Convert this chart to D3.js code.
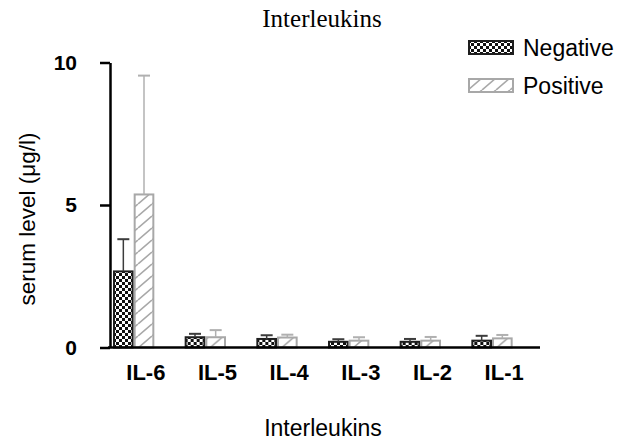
<!DOCTYPE html>
<html>
<head>
<meta charset="utf-8">
<script src="https://cdn.jsdelivr.net/npm/d3@7"></script>
<style>
  html, body { margin: 0; padding: 0; background: #fff; }
  svg { display: block; }
</style>
</head>
<body>
<svg id="chart" width="619" height="440"></svg>
<script>
const categories = ["IL-6", "IL-5", "IL-4", "IL-3", "IL-2", "IL-1"];
const seriesNames = ["Negative", "Positive"];
const negativeValues = [2.67, 0.36, 0.30, 0.20, 0.20, 0.24];
const negativeErrors = [1.13, 0.12, 0.13, 0.09, 0.10, 0.17];
const positiveValues = [5.37, 0.36, 0.35, 0.24, 0.24, 0.32];
const positiveErrors = [4.17, 0.25, 0.10, 0.12, 0.13, 0.12];
const yTicks = [0, 5, 10];
const chartTitle = "Interleukins";
const xTitle = "Interleukins";
const yTitle = "serum level (\u03bcg/l)";

const svg = d3.select("#chart");
const defs = svg.append("defs");

// checker pattern
const chk = defs.append("pattern").attr("id", "checker")
  .attr("patternUnits", "userSpaceOnUse").attr("width", 6).attr("height", 6);
chk.append("rect").attr("width", 6).attr("height", 6).attr("fill", "#fff");
chk.append("rect").attr("width", 3).attr("height", 3).attr("fill", "#111");
chk.append("rect").attr("x", 3).attr("y", 3).attr("width", 3).attr("height", 3).attr("fill", "#111");

// hatch pattern
const hw = 14, hh = 12;
const hat = defs.append("pattern").attr("id", "hatch")
  .attr("patternUnits", "userSpaceOnUse").attr("width", hw).attr("height", hh);
hat.append("rect").attr("width", hw).attr("height", hh).attr("fill", "#fff");
hat.append("path")
  .attr("d", `M0,${hh} L${hw},0 M${-hw},${hh} L0,0 M${hw},${hh} L${2*hw},0`)
  .attr("stroke", "#a8a8a8").attr("stroke-width", 1.6);

const fills = { Negative: "url(#checker)", Positive: "url(#hatch)" };
const strokes = { Negative: "#1e1e1e", Positive: "#a8a8a8" };
const errColors = { Negative: "#3c3c3c", Positive: "#b0b0b0" };

const data = categories.map((c, i) => ({
  cat: c,
  series: [
    { key: "Negative", value: negativeValues[i], err: negativeErrors[i] },
    { key: "Positive", value: positiveValues[i], err: positiveErrors[i] }
  ]
}));

const x = d3.scaleBand().domain(categories).range([110, 540]).padding(0);
const xSub = d3.scaleBand().domain(["Negative", "Positive", "_gap"]).range([3, 65]).padding(0);
const y = d3.scaleLinear().domain([0, 10]).range([347.5, 62.5]);

// bars
const groups = svg.append("g").selectAll("g").data(data).join("g")
  .attr("transform", d => `translate(${x(d.cat)},0)`);

groups.selectAll("rect.bar").data(d => d.series).join("rect")
  .attr("class", "bar")
  .attr("x", d => xSub(d.key) + 1)
  .attr("y", d => y(d.value))
  .attr("width", xSub.bandwidth() - 2)
  .attr("height", d => y(0) - y(d.value))
  .attr("fill", d => fills[d.key])
  .attr("stroke", d => strokes[d.key])
  .attr("stroke-width", 2);

// error bars
groups.selectAll("g.err").data(d => d.series).join("g").attr("class", "err")
  .each(function(d) {
    const g = d3.select(this);
    const cx = xSub(d.key) + xSub.bandwidth() / 2;
    g.append("line").attr("x1", cx).attr("x2", cx)
      .attr("y1", y(d.value)).attr("y2", y(d.value + d.err))
      .attr("stroke", errColors[d.key]).attr("stroke-width", 1.5);
    g.append("line").attr("x1", cx - 6).attr("x2", cx + 6)
      .attr("y1", y(d.value + d.err)).attr("y2", y(d.value + d.err))
      .attr("stroke", errColors[d.key]).attr("stroke-width", 2);
  });

// y axis
const yAxis = svg.append("g").attr("transform", "translate(110,0)")
  .call(d3.axisLeft(y).tickValues(yTicks).tickSize(10).tickPadding(23).tickSizeOuter(0));
yAxis.select(".domain").attr("stroke", "#000").attr("stroke-width", 2.5);
yAxis.selectAll(".tick line").attr("stroke", "#000").attr("stroke-width", 2.5);
yAxis.selectAll(".tick text")
  .attr("font-family", "Liberation Sans, Arial, sans-serif")
  .attr("font-weight", "bold").attr("font-size", 21).attr("fill", "#000");

// x axis
const xAxis = svg.append("g").attr("transform", `translate(0,${y(0)})`)
  .call(d3.axisBottom(x).tickSize(0).tickPadding(17).tickSizeOuter(0));
xAxis.select(".domain").attr("stroke", "#000").attr("stroke-width", 2.5)
  .attr("d", "M108,0H540");
xAxis.selectAll(".tick text")
  .attr("font-family", "Liberation Sans, Arial, sans-serif")
  .attr("font-weight", "bold").attr("font-size", 22).attr("fill", "#000");

// titles
svg.append("text").attr("x", 322).attr("y", 27).attr("text-anchor", "middle")
  .attr("font-family", "Liberation Serif, Times New Roman, serif")
  .attr("font-size", 25).attr("fill", "#000").text(chartTitle);

svg.append("text").attr("x", 323).attr("y", 436).attr("text-anchor", "middle")
  .attr("font-family", "Liberation Sans, Arial, sans-serif")
  .attr("font-size", 23).attr("fill", "#000").text(xTitle);

svg.append("text").attr("transform", "translate(35,219) rotate(-90)")
  .attr("text-anchor", "middle")
  .attr("font-family", "Liberation Sans, Arial, sans-serif")
  .attr("font-size", 22.5).attr("fill", "#000").text(yTitle);

// legend
const legend = svg.append("g").selectAll("g").data(seriesNames).join("g")
  .attr("transform", (d, i) => `translate(468,${40 + i * 38})`);
legend.append("rect").attr("x", 1).attr("y", 1).attr("width", 44).attr("height", 13)
  .attr("fill", d => fills[d]).attr("stroke", d => strokes[d]).attr("stroke-width", 2);
legend.append("text").attr("x", 55).attr("y", 16)
  .attr("font-family", "Liberation Sans, Arial, sans-serif")
  .attr("font-size", 23).attr("fill", "#000").text(d => d);
</script>
</body>
</html>
